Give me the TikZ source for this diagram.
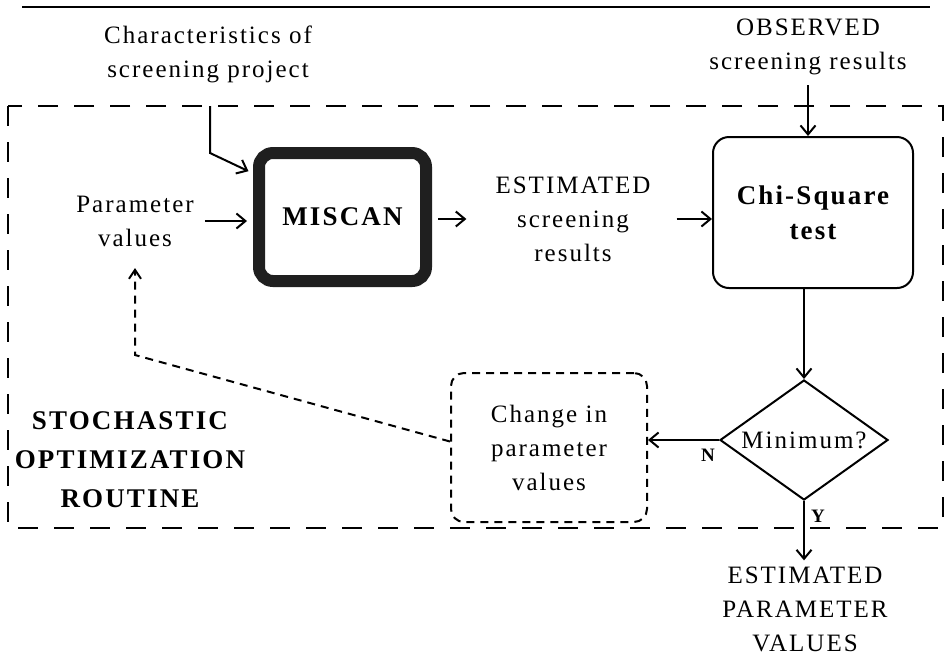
\documentclass[tikz,border=0pt]{standalone}
\usepackage{fontspec}
\setmainfont{Liberation Serif}[LetterSpace=8]
\usetikzlibrary{arrows.meta,shapes.geometric}

\begin{document}
\begin{tikzpicture}[x=1pt,y=-1pt,
  lbl/.style={font=\fontsize{25}{34}\selectfont, align=center, inner sep=0pt},
  heavy/.style={font=\fontsize{27}{39}\selectfont\bfseries, align=center, inner sep=0pt},
  tag/.style={font=\fontsize{19}{20}\selectfont\bfseries, inner sep=0pt},
  arr/.style={line width=2pt, -{Straight Barb[length=9pt,width=15pt,line width=2pt]}},
  bigdash/.style={line width=2.5pt, dash pattern=on 20pt off 16pt},
  smalldash/.style={line width=2pt, dash pattern=on 8pt off 6pt},
  modelbox/.style={draw=black!88, line width=12pt, rounded corners=14pt,
    minimum width=167pt, minimum height=128pt, inner sep=0pt,
    font=\fontsize{27}{34}\selectfont\bfseries},
  testbox/.style={draw, line width=2pt, rounded corners=16pt,
    minimum width=200pt, minimum height=151pt, inner sep=0pt,
    font=\fontsize{27}{35}\selectfont\bfseries, align=center},
  decision/.style={draw, diamond, aspect=1.4, line width=2pt, inner sep=0pt,
    minimum width=168pt, minimum height=120pt, font=\fontsize{25}{28}\selectfont},
  changebox/.style={draw, smalldash, rounded corners=13pt,
    minimum width=196pt, minimum height=149pt, inner sep=0pt,
    font=\fontsize{25}{34}\selectfont, align=center}
]
\useasboundingbox (0,0) rectangle (945,657);

% heading rule
\coordinate (rule-l) at (22,7);
\coordinate (rule-r) at (930,7);
\draw[line width=2.5pt] (rule-l) -- (rule-r);

% frame of the optimization routine
\coordinate (frame-nw) at (8,106);
\coordinate (frame-se) at (943,528);
\draw[bigdash] (frame-nw) rectangle (frame-se);

% inputs
\node[lbl] (chars) at (208,54) {Characteristics of\\screening project};
\node[lbl] (obs) at (808,47) {OBSERVED\\screening results};
\node[lbl] (params) at (135,221) {Parameter\\values};

% main blocks
\node[modelbox] (miscan) at (342.5,217) {MISCAN};
\node[lbl] (est) at (573,219) {ESTIMATED\\screening\\results};
\node[testbox] (chi) at (813,212.5) {Chi-Square\\test};
\node[decision] (mini) at (804,440) {Minimum?};
\node[changebox] (change) at (549,447.5) {Change in\\parameter\\values};
\node[lbl] (result) at (805,609) {ESTIMATED\\PARAMETER\\VALUES};
\node[heavy] (stoch) at (130,460) {STOCHASTIC\\OPTIMIZATION\\ROUTINE};

% branch labels
\node[tag, anchor=west] (ylab) at (811,516) {Y};
\node[tag] (nlab) at (708,455) {N};

% connectors
\coordinate (chars-in) at (210,106);
\coordinate (chars-bend) at (210,153);
\draw[arr, shorten >=5pt] (chars-in) -- (chars-bend) -- (miscan.154);
\draw[arr, shorten <=11pt, shorten >=6pt] (params.east) -- (params.east -| miscan.west);
\draw[arr, shorten <=6pt] (miscan.east |- est.west) -- ([xshift=-29pt]est.west);
\draw[arr, shorten <=26pt] (est.east) -- (est.east -| chi.west);
\draw[arr, shorten <=10pt] (obs.south) -- (obs.south |- chi.north);
\draw[arr] (chi.south -| mini.north) -- (mini.north);
\draw[arr] (mini.west) -- (mini.west -| change.east);
\draw[arr, shorten >=6pt] (mini.south) -- (mini.south |- result.north);

% feedback to the parameter values
\coordinate (fb-bend) at (135,355);
\coordinate (fb-tip) at (135,268);
\draw[smalldash, -{Straight Barb[length=9pt,width=12pt,line width=2pt]}]
  ([yshift=6pt]change.west) -- (fb-bend) -- (fb-tip);
\end{tikzpicture}
\end{document}
